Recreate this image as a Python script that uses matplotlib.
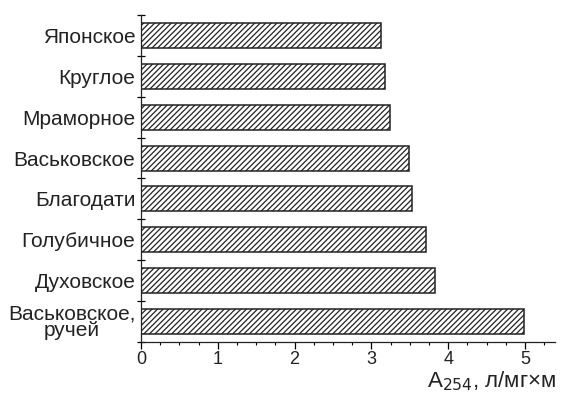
import matplotlib
matplotlib.use('Agg')
import matplotlib.pyplot as plt
from matplotlib.ticker import MultipleLocator

plt.rcParams['font.family'] = ['Liberation Sans', 'DejaVu Sans']
plt.rcParams['hatch.linewidth'] = 0.9

lakes = ['Японское', 'Круглое', 'Мраморное', 'Васьковское', 'Благодати',
         'Голубичное', 'Духовское', 'Васьковское,\nручей']
a254 = [3.13, 3.18, 3.24, 3.49, 3.53, 3.71, 3.83, 4.99]

fig = plt.figure(figsize=(5.61, 3.94), dpi=100)
ax = fig.add_axes([0.2513, 0.132, 0.738, 0.830])

pos = list(range(len(lakes)))[::-1]
ax.barh(pos, a254, height=0.61, color='white', edgecolor='#222222',
        linewidth=1.1, hatch='//////')

ax.set_xlim(0, 5.39)
ax.set_ylim(-0.48, 7.46)
ax.set_yticks(pos)
ax.set_yticklabels(lakes, fontsize=15, color='#222222', linespacing=0.8,
                   multialignment='center')
ax.set_yticks([p + 0.5 for p in range(-1, 8)], minor=True)
ax.tick_params(axis='y', which='major', length=0, pad=4)
ax.tick_params(axis='y', which='minor', length=6, direction='inout', width=0.9)

ax.xaxis.set_major_locator(MultipleLocator(1))
ax.xaxis.set_minor_locator(MultipleLocator(0.25))
ax.tick_params(axis='x', which='major', length=5, width=0.9, labelsize=13,
               labelcolor='#222222', pad=1.5)
ax.tick_params(axis='x', which='minor', length=2.5, width=0.8)

for s in ['top', 'right']:
    ax.spines[s].set_visible(False)
for s in ['left', 'bottom']:
    ax.spines[s].set_linewidth(0.9)
    ax.spines[s].set_color('#222222')

fig.text(0.992, 0.003, r'A$_{254}$, л/мг×м', ha='right', va='bottom',
         fontsize=16, color='#222222')

fig.savefig('out.png', dpi=100, facecolor='white')
